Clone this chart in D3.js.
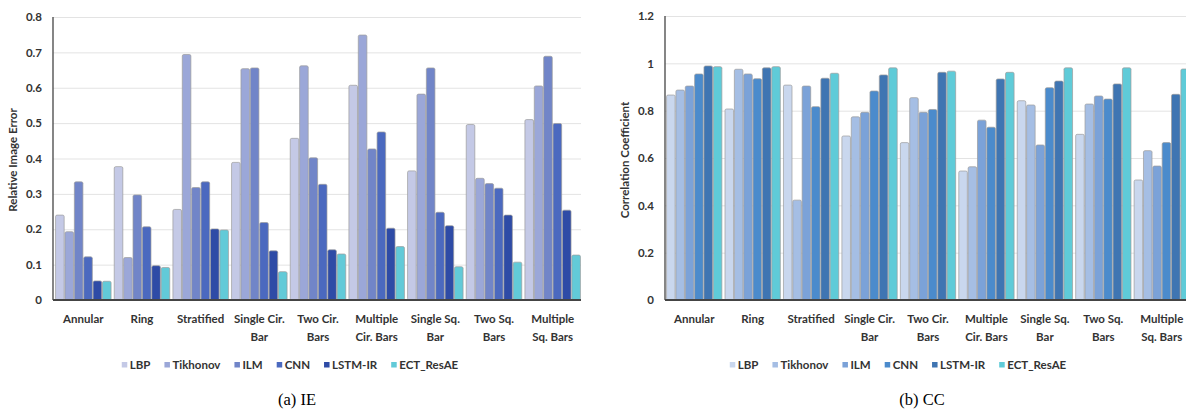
<!DOCTYPE html>
<meta charset="utf-8">
<style>
body { margin: 0; background: #fff; }
svg text { font-family: Lato, "Open Sans", sans-serif; font-weight: bold; fill: #333; }
.caption { font-family: "Liberation Serif", "DejaVu Serif", serif !important; font-weight: normal !important; fill: #000 !important; }
.grid line { stroke: #e3e3e3; }
</style>
<body>
<script src="https://d3js.org/d3.v7.min.js"></script>
<script>

var categories = ["Annular", "Ring", "Stratified", "Single Cir.\nBar", "Two Cir.\nBars",
  "Multiple\nCir. Bars", "Single Sq.\nBar", "Two Sq.\nBars", "Multiple\nSq. Bars"];
var methods = ["LBP", "Tikhonov", "ILM", "CNN", "LSTM-IR", "ECT_ResAE"];

// relative image error, one array per method (order follows categories)
var ieLBP      = [0.24, 0.377, 0.256, 0.389, 0.457, 0.607, 0.365, 0.496, 0.51];
var ieTikhonov = [0.193, 0.12, 0.694, 0.654, 0.662, 0.749, 0.582, 0.344, 0.605];
var ieILM      = [0.334, 0.297, 0.318, 0.656, 0.402, 0.427, 0.656, 0.329, 0.689];
var ieCNN      = [0.122, 0.207, 0.334, 0.219, 0.327, 0.475, 0.248, 0.316, 0.499];
var ieLSTM     = [0.054, 0.097, 0.201, 0.139, 0.142, 0.203, 0.21, 0.24, 0.254];
var ieECT      = [0.053, 0.092, 0.198, 0.08, 0.13, 0.151, 0.094, 0.107, 0.127];

// correlation coefficient
var ccLBP      = [0.866, 0.807, 0.908, 0.693, 0.665, 0.545, 0.842, 0.7, 0.507];
var ccTikhonov = [0.887, 0.975, 0.422, 0.774, 0.855, 0.563, 0.824, 0.828, 0.631];
var ccILM      = [0.904, 0.955, 0.904, 0.793, 0.793, 0.76, 0.655, 0.862, 0.566];
var ccCNN      = [0.955, 0.935, 0.817, 0.883, 0.805, 0.73, 0.897, 0.849, 0.665];
var ccLSTM     = [0.989, 0.981, 0.937, 0.951, 0.962, 0.934, 0.925, 0.913, 0.869];
var ccECT      = [0.986, 0.986, 0.958, 0.981, 0.967, 0.962, 0.981, 0.981, 0.976];

var ieTicks = [0, 0.1, 0.2, 0.3, 0.4, 0.5, 0.6, 0.7, 0.8];
var ccTicks = [0, 0.2, 0.4, 0.6, 0.8, 1, 1.2];

var ieColors = ["#c4c9e6", "#9ba7d8", "#7185c8", "#4b69bf", "#2e4ba6", "#62cad8"];
var ccColors = ["#c9d7ee", "#a5bee4", "#7ba2d8", "#4b8bcc", "#3f75b2", "#5fcbd8"];

var svg = d3.select("body").append("svg")
    .attr("width", 1186)
    .attr("height", 411);

function drawChart(opt) {
  var g = svg.append("g");

  var y = d3.scaleLinear().domain(opt.domain).range([300, opt.top]);
  var x0 = d3.scaleBand().domain(categories).range([opt.left, opt.right])
      .paddingInner(0.04).paddingOuter(0.02);
  var x1 = d3.scaleBand().domain(methods).range([0, x0.bandwidth()]);
  var color = d3.scaleOrdinal().domain(methods).range(opt.colors);

  // gridlines
  g.append("g")
      .attr("class", "grid")
      .attr("transform", "translate(" + opt.axisX + ",0)")
      .call(d3.axisRight(y).tickValues(opt.ticks).tickSize(opt.gridEnd - opt.axisX).tickFormat(""))
      .call(function(s) { s.select(".domain").remove(); });

  // y axis labels
  var ya = g.append("g")
      .attr("transform", "translate(" + opt.axisX + ",0)")
      .call(d3.axisLeft(y).tickValues(opt.ticks).tickSize(0).tickPadding(11)
        .tickFormat(function(d) { return String(d); }));
  ya.select(".domain").remove();
  ya.selectAll("text").style("font-size", "11.5px").style("font-family", null);

  g.append("text")
      .attr("transform", "translate(" + opt.titleX + ",160) rotate(-90)")
      .attr("text-anchor", "middle")
      .style("font-size", "11.5px")
      .text(opt.title);

  // bars
  var rows = categories.map(function(c, i) {
    return methods.map(function(m, j) { return {cat: c, method: m, value: opt.series[j][i]}; });
  });

  g.selectAll(".grp")
      .data(rows)
    .enter().append("g")
      .attr("transform", function(d, i) { return "translate(" + x0(categories[i]) + ",0)"; })
    .selectAll("rect")
      .data(function(d) { return d; })
    .enter().append("rect")
      .attr("x", function(d) { return x1(d.method) + 0.4; })
      .attr("width", x1.bandwidth() - 0.8)
      .attr("y", function(d) { return y(d.value); })
      .attr("height", function(d) { return y(0) - y(d.value); })
      .attr("rx", 1.5)
      .style("fill", function(d) { return color(d.method); })
      .style("stroke", "#9c9c9c")
      .style("stroke-width", 0.7);

  // axis lines
  g.append("line")
      .attr("x1", opt.axisX).attr("x2", opt.axisX)
      .attr("y1", y(opt.domain[1])).attr("y2", y(0))
      .style("stroke", "#444").style("stroke-width", 1.3);
  g.append("line")
      .attr("x1", opt.axisX).attr("x2", opt.gridEnd)
      .attr("y1", y(0)).attr("y2", y(0))
      .style("stroke", "#444").style("stroke-width", 2);

  // category labels, centred under each group
  var lab = g.selectAll(".cat")
      .data(categories)
    .enter().append("text")
      .attr("text-anchor", "middle")
      .attr("y", 323)
      .style("font-size", "11.5px");
  lab.each(function(d) {
    var t = d3.select(this);
    var cx = x0(d) + x0.bandwidth() / 2;
    d.split("\n").forEach(function(line, k) {
      t.append("tspan").attr("x", cx).attr("dy", k ? 18 : 0).text(line);
    });
  });

  // legend
  var leg = g.append("g");
  var lx = 0;
  methods.forEach(function(m) {
    var it = leg.append("g").attr("transform", "translate(" + lx + ",0)");
    it.append("rect").attr("y", -7).attr("width", 5.5).attr("height", 5.5)
        .style("fill", color(m));
    var t = it.append("text").attr("x", 8).style("font-size", "11.5px").text(m);
    lx += 8 + t.node().getComputedTextLength() + 14;
  });
  lx -= 14;
  leg.attr("transform", "translate(" + (opt.legendCenter - lx / 2) + ",369)");

  svg.append("text")
      .attr("class", "caption")
      .attr("x", opt.captionX)
      .attr("y", 405)
      .attr("text-anchor", "middle")
      .style("font-size", "16.5px")
      .text(opt.caption);
}

drawChart({
  domain: [0, 0.8], top: 17, ticks: ieTicks,
  axisX: 53, left: 54, right: 582, gridEnd: 581,
  series: [ieLBP, ieTikhonov, ieILM, ieCNN, ieLSTM, ieECT],
  colors: ieColors,
  title: "Relative Image Error", titleX: 17,
  legendCenter: 290, caption: "(a) IE", captionX: 297
});

drawChart({
  domain: [0, 1.2], top: 16, ticks: ccTicks,
  axisX: 665, left: 665, right: 1191, gridEnd: 1190,
  series: [ccLBP, ccTikhonov, ccILM, ccCNN, ccLSTM, ccECT],
  colors: ccColors,
  title: "Correlation Coefficient", titleX: 629,
  legendCenter: 898, caption: "(b) CC", captionX: 922
});

</script>
